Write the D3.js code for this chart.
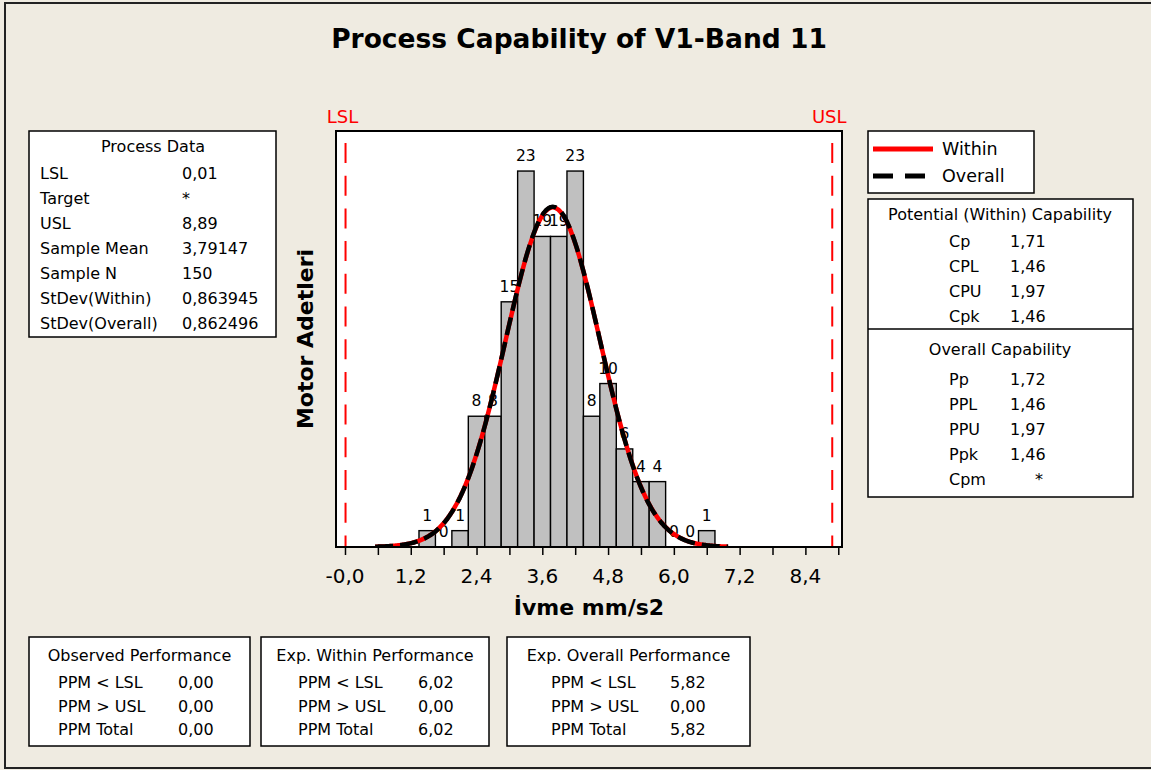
<!DOCTYPE html>
<html>
<head>
<meta charset="utf-8">
<script src="https://cdn.jsdelivr.net/npm/d3@7"></script>
<style>
  html, body { margin: 0; padding: 0; background: #EFEBE1; }
  svg { display: block; font-family: "DejaVu Sans", sans-serif; }
</style>
</head>
<body>
<svg id="chart" width="1151" height="770"></svg>
<script>
// ---- histogram data ----
const binCenters = [1.5, 1.8, 2.1, 2.4, 2.7, 3.0, 3.3, 3.6, 3.9, 4.2, 4.5, 4.8, 5.1, 5.4, 5.7, 6.0, 6.3, 6.6];
const binCounts  = [1, 0, 1, 8, 8, 15, 23, 19, 19, 23, 8, 10, 6, 4, 4, 0, 0, 1];
const binWidth = 0.3;

// ---- process values ----
const LSL = 0.01, USL = 8.89;
const sampleMean = 3.79147, sampleN = 150;
const sdWithin = 0.863945, sdOverall = 0.862496;

// ---- axis ----
const tickValues = [0, 0.6, 1.2, 1.8, 2.4, 3.0, 3.6, 4.2, 4.8, 5.4, 6.0, 6.6, 7.2, 7.8, 8.4, 9.0];
const tickLabels = ["-0,0", "1,2", "2,4", "3,6", "4,8", "6,0", "7,2", "8,4"];

// ---- tables ----
const processData = [
  ["LSL", "0,01"], ["Target", "*"], ["USL", "8,89"], ["Sample Mean", "3,79147"],
  ["Sample N", "150"], ["StDev(Within)", "0,863945"], ["StDev(Overall)", "0,862496"]
];
const withinCap  = [["Cp", "1,71"], ["CPL", "1,46"], ["CPU", "1,97"], ["Cpk", "1,46"]];
const overallCap = [["Pp", "1,72"], ["PPL", "1,46"], ["PPU", "1,97"], ["Ppk", "1,46"], ["Cpm", "*"]];
const observedPerf = [["PPM < LSL", "0,00"], ["PPM > USL", "0,00"], ["PPM Total", "0,00"]];
const withinPerf   = [["PPM < LSL", "6,02"], ["PPM > USL", "0,00"], ["PPM Total", "6,02"]];
const overallPerf  = [["PPM < LSL", "5,82"], ["PPM > USL", "0,00"], ["PPM Total", "5,82"]];

const svg = d3.select("#chart");
const bg = "#EFEBE1";

svg.append("rect").attr("x", 0).attr("y", 0).attr("width", 1151).attr("height", 770).attr("fill", bg);
svg.append("rect").attr("x", 5).attr("y", 3).attr("width", 1160).attr("height", 765)
  .attr("fill", "none").attr("stroke", "#222").attr("stroke-width", 2);

// title
svg.append("text").attr("x", 579).attr("y", 48).attr("text-anchor", "middle")
  .attr("font-size", 26.5).attr("font-weight", "bold").text("Process Capability of V1-Band 11");

// ---- plot ----
const plot = { left: 336, right: 842, top: 131, bottom: 547 };
const x = d3.scaleLinear().domain([-0.164, 9.068]).range([plot.left, plot.right]);
const y = d3.scaleLinear().domain([0, 25.45]).range([plot.bottom, plot.top]);

svg.append("rect").attr("x", plot.left).attr("y", plot.top)
  .attr("width", plot.right - plot.left).attr("height", plot.bottom - plot.top)
  .attr("fill", "#fff");

svg.append("defs").append("clipPath").attr("id", "plotClip")
  .append("rect").attr("x", plot.left).attr("y", plot.top)
  .attr("width", plot.right - plot.left).attr("height", plot.bottom - plot.top);

const g = svg.append("g").attr("clip-path", "url(#plotClip)");

// spec limit lines
[LSL, USL].forEach(v => {
  g.append("line").attr("x1", x(v)).attr("x2", x(v))
    .attr("y1", plot.top + 12).attr("y2", plot.bottom)
    .attr("stroke", "#FF0000").attr("stroke-width", 2)
    .attr("stroke-dasharray", "20,12.7");
});

// bars
const bins = binCenters.map((c, i) => ({ c, n: binCounts[i] }));
g.selectAll("rect.bar").data(bins.filter(d => d.n > 0)).join("rect")
  .attr("class", "bar")
  .attr("x", d => x(d.c - binWidth / 2))
  .attr("width", d => x(d.c + binWidth / 2) - x(d.c - binWidth / 2))
  .attr("y", d => y(d.n))
  .attr("height", d => y(0) - y(d.n))
  .attr("fill", "#C0C0C0").attr("stroke", "#000").attr("stroke-width", 1.4);

// count labels (drawn under the fitted curves)
svg.selectAll("text.cnt").data(bins).join("text")
  .attr("class", "cnt")
  .attr("x", d => x(d.c))
  .attr("y", d => y(d.n) - 10)
  .attr("text-anchor", "middle").attr("font-size", 15.5)
  .text(d => d.n);

// fitted normal curves
const scaleN = sampleN * binWidth;
const pdf = (v, s) => scaleN * Math.exp(-0.5 * ((v - sampleMean) / s) ** 2) / (s * Math.sqrt(2 * Math.PI));
const xs = d3.range(0.55, 7.0001, 0.02);
const line = d3.line().x(d => x(d[0])).y(d => y(d[1])).curve(d3.curveBasis);

const curves = svg.append("g").attr("clip-path", "url(#plotClip)");
curves.append("path").datum(xs.map(v => [v, pdf(v, sdWithin)]))
  .attr("d", line).attr("fill", "none").attr("stroke", "#FF0000").attr("stroke-width", 4.5);
curves.append("path").datum(xs.map(v => [v, pdf(v, sdOverall)]))
  .attr("d", line).attr("fill", "none").attr("stroke", "#000").attr("stroke-width", 4.5)
  .attr("stroke-dasharray", "18,7");

// frame
svg.append("rect").attr("x", plot.left).attr("y", plot.top)
  .attr("width", plot.right - plot.left).attr("height", plot.bottom - plot.top)
  .attr("fill", "none").attr("stroke", "#000").attr("stroke-width", 2);

// x axis
const axis = d3.axisBottom(x).tickValues(tickValues).tickSize(8).tickFormat(() => "");
const ax = svg.append("g").attr("transform", `translate(0,${plot.bottom})`).call(axis);
ax.select(".domain").remove();
ax.selectAll(".tick line").attr("stroke", "#000").attr("stroke-width", 1.5);
svg.selectAll("text.tl").data(tickValues.filter((d, i) => i % 2 === 0)).join("text")
  .attr("class", "tl")
  .attr("x", d => x(d)).attr("y", 583).attr("text-anchor", "middle")
  .attr("font-size", 20).text((d, i) => tickLabels[i]);

svg.append("text").attr("x", 589).attr("y", 615).attr("text-anchor", "middle")
  .attr("font-size", 22).attr("font-weight", "bold").text("İvme mm/s2");
svg.append("text").attr("transform", "translate(313,339) rotate(-90)").attr("text-anchor", "middle")
  .attr("font-size", 22).attr("font-weight", "bold").text("Motor Adetleri");

// spec labels
[["LSL", LSL], ["USL", USL]].forEach(([t, v]) => {
  svg.append("text").attr("x", x(v) - 3).attr("y", 123).attr("text-anchor", "middle")
    .attr("font-size", 18).attr("fill", "#FF0000").text(t);
});

// ---- helpers ----
function box(x0, y0, w, h) {
  svg.append("rect").attr("x", x0).attr("y", y0).attr("width", w).attr("height", h)
    .attr("fill", "#fff").attr("stroke", "#000").attr("stroke-width", 1.5);
}
function rows(data, lx, vx, y0, dy, size) {
  data.forEach((r, i) => {
    svg.append("text").attr("x", lx).attr("y", y0 + i * dy).attr("font-size", size).text(r[0]);
    svg.append("text").attr("x", vx).attr("y", y0 + i * dy).attr("font-size", size).text(r[1]);
  });
}
function title(t, cx, yy, size) {
  svg.append("text").attr("x", cx).attr("y", yy).attr("text-anchor", "middle")
    .attr("font-size", size).text(t);
}

// process data
box(29, 131, 247, 206);
title("Process Data", 153, 152, 16);
rows(processData, 40, 182, 179, 25, 16);

// legend
box(868, 131, 166, 62);
svg.append("line").attr("x1", 873).attr("x2", 933).attr("y1", 149).attr("y2", 149)
  .attr("stroke", "#FF0000").attr("stroke-width", 5);
svg.append("line").attr("x1", 873).attr("x2", 933).attr("y1", 176).attr("y2", 176)
  .attr("stroke", "#000").attr("stroke-width", 5).attr("stroke-dasharray", "20,12");
svg.append("text").attr("x", 942).attr("y", 154.5).attr("font-size", 17.5).text("Within");
svg.append("text").attr("x", 942).attr("y", 182).attr("font-size", 17.5).text("Overall");

// capability
box(868, 199, 265, 298);
svg.append("line").attr("x1", 868).attr("x2", 1133).attr("y1", 329).attr("y2", 329)
  .attr("stroke", "#000").attr("stroke-width", 1.5);
title("Potential (Within) Capability", 1000, 220, 16);
rows(withinCap, 949, 1010, 246.5, 25, 16);
title("Overall Capability", 1000, 355, 16);
rows(overallCap.map(r => r[1] === "*" ? [r[0], ""] : r), 949, 1010, 385, 25, 16);
svg.append("text").attr("x", 1035).attr("y", 385 + 4 * 25).attr("font-size", 16).text("*");

// performance boxes
const perf = [
  ["Observed Performance", observedPerf, 29, 221, 58, 178],
  ["Exp. Within Performance", withinPerf, 261, 228, 298, 418],
  ["Exp. Overall Performance", overallPerf, 507, 243, 551, 670]
];
perf.forEach(([t, data, bx, bw, lx, vx]) => {
  box(bx, 637, bw, 109);
  title(t, bx + bw / 2, 661, 16);
  rows(data, lx, vx, 688, 23.5, 16);
});
</script>
</body>
</html>
